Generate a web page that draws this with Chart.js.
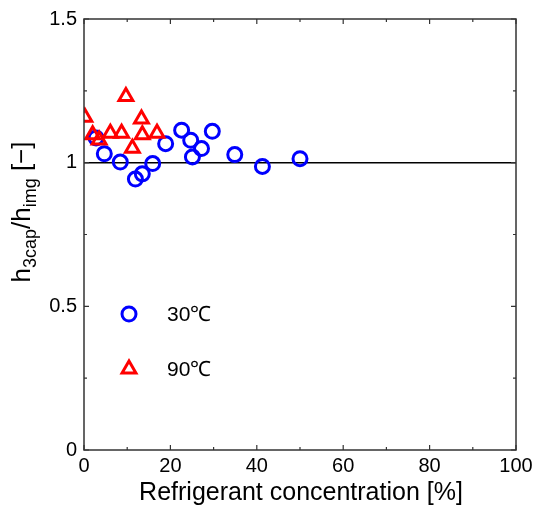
<!DOCTYPE html>
<html><head><meta charset="utf-8">
<script src="https://cdn.jsdelivr.net/npm/chart.js@4.4.1/dist/chart.umd.min.js"></script>
<style>html,body{margin:0;padding:0;background:#fff;}#wrap{width:533px;height:506px;}</style>
</head><body><div id="wrap"><canvas id="c" width="533" height="506"></canvas></div>
<script>
const conc30 = [2.8, 4.7, 8.4, 11.9, 13.5, 15.9, 18.9, 22.6, 24.7, 25.1, 27.2, 29.7, 34.9, 41.3, 50.0];
const ratio30 = [1.086, 1.031, 1.002, 0.943, 0.961, 0.997, 1.066, 1.113, 1.078, 1.020, 1.049, 1.109, 1.028, 0.987, 1.014];
const conc90 = [0.2, 2.0, 3.5, 6.1, 8.7, 9.7, 11.2, 13.3, 13.5, 16.9];
const ratio90 = [1.158, 1.097, 1.079, 1.102, 1.102, 1.230, 1.050, 1.152, 1.097, 1.102];
const refLineX = [0, 100];
const refLineY = [1, 1];
const xTicks = [0, 20, 40, 60, 80, 100];
const yTicks = [0, 0.5, 1, 1.5];
const seriesLabels = ['30\u2103', '90\u2103'];

const FONT = "'Liberation Sans', Arial, sans-serif";

const boxPlugin = {
  id: 'box',
  afterDraw(chart) {
    const ctx = chart.ctx, a = chart.chartArea;
    const xs = chart.scales.x, ys = chart.scales.y;
    ctx.save();
    ctx.strokeStyle = '#333';
    ctx.lineWidth = 1.5;
    ctx.strokeRect(a.left, a.top, a.right - a.left, a.bottom - a.top);
    ctx.lineWidth = 1.2;
    ctx.beginPath();
    for (let v = 0; v <= 100; v += 10) {
      const p = xs.getPixelForValue(v);
      const len = (v % 20 === 0) ? 5 : 3;
      ctx.moveTo(p, a.bottom); ctx.lineTo(p, a.bottom - len);
      ctx.moveTo(p, a.top); ctx.lineTo(p, a.top + len);
    }
    for (let v = 0; v <= 1.5001; v += 0.25) {
      const p = ys.getPixelForValue(v);
      const len = (Math.abs(v / 0.5 - Math.round(v / 0.5)) < 1e-6) ? 5 : 3;
      ctx.moveTo(a.left, p); ctx.lineTo(a.left + len, p);
      ctx.moveTo(a.right, p); ctx.lineTo(a.right - len, p);
    }
    ctx.stroke();

    // legend
    ctx.fillStyle = '#000';
    ctx.font = '21px ' + FONT;
    ctx.textBaseline = 'middle';
    ctx.textAlign = 'left';
    const ds = chart.data.datasets;
    const items = [[ds[0], 314, seriesLabels[0]], [ds[1], 369, seriesLabels[1]]];
    items.forEach(([d, y, t]) => {
      ctx.save();
      ctx.strokeStyle = d.borderColor;
      ctx.fillStyle = 'rgba(0,0,0,0)';
      ctx.lineWidth = d.borderWidth;
      Chart.helpers.drawPoint(ctx, {pointStyle: d.pointStyle, radius: d.pointRadius, borderWidth: d.borderWidth}, 129, y);
      ctx.restore();
      ctx.fillText(t, 167, y + 1);
    });

    // x title
    ctx.font = '25px ' + FONT;
    ctx.textAlign = 'center';
    ctx.textBaseline = 'alphabetic';
    ctx.fillText('Refrigerant concentration [%]', 301, 500);

    // y title with subscripts
    ctx.translate(30, 212);
    ctx.rotate(-Math.PI / 2);
    const parts = [['h', 26, 0], ['3cap', 18, 6], ['/h', 26, 0], ['img', 18, 6], [' [\u2212]', 26, 0]];
    let total = 0;
    parts.forEach(p => { ctx.font = p[1] + 'px ' + FONT; total += ctx.measureText(p[0]).width; });
    let x = -total / 2;
    ctx.textAlign = 'left';
    parts.forEach(p => { ctx.font = p[1] + 'px ' + FONT; ctx.fillText(p[0], x, p[2]); x += ctx.measureText(p[0]).width; });
    ctx.restore();
  }
};

new Chart(document.getElementById('c'), {
  type: 'scatter',
  data: {
    datasets: [
      { label: seriesLabels[0], data: conc30.map((x, i) => ({x, y: ratio30[i]})), pointStyle: 'circle', pointRadius: 7, pointHoverRadius: 7, borderColor: '#0000ff', backgroundColor: 'rgba(0,0,0,0)', borderWidth: 3, order: 1 },
      { label: seriesLabels[1], data: conc90.map((x, i) => ({x, y: ratio90[i]})), pointStyle: 'triangle', pointRadius: 8, pointHoverRadius: 8, borderColor: '#ff0000', backgroundColor: 'rgba(0,0,0,0)', borderWidth: 3, order: 0 },
      { type: 'line', label: 'ref', data: refLineX.map((x, i) => ({x, y: refLineY[i]})), borderColor: '#000', borderWidth: 1.5, pointRadius: 0, fill: false, order: 2 }
    ]
  },
  options: {
    responsive: false, animation: false,
    layout: { padding: { top: 19, right: 17, left: 0, bottom: 0 } },
    plugins: { legend: { display: false }, tooltip: { enabled: false } },
    scales: {
      x: {
        type: 'linear', min: 0, max: 100,
        grid: { display: false, drawTicks: false, tickLength: 0 }, border: { display: false },
        afterBuildTicks: s => { s.ticks = xTicks.map(v => ({value: v})); },
        afterFit: s => { s.height = 56; s.paddingLeft = 0; s.paddingRight = 0; },
        ticks: { color: '#000', font: { family: FONT, size: 20 }, padding: 4, maxRotation: 0, callback: v => String(v) }
      },
      y: {
        type: 'linear', min: 0, max: 1.5,
        grid: { display: false, drawTicks: false, tickLength: 0 }, border: { display: false },
        afterBuildTicks: s => { s.ticks = yTicks.map(v => ({value: v})); },
        afterFit: s => { s.width = 84; s.paddingTop = 0; s.paddingBottom = 0; },
        ticks: { color: '#000', font: { family: FONT, size: 20 }, padding: 7, callback: v => String(v) }
      }
    }
  },
  plugins: [boxPlugin]
});
</script></body></html>
